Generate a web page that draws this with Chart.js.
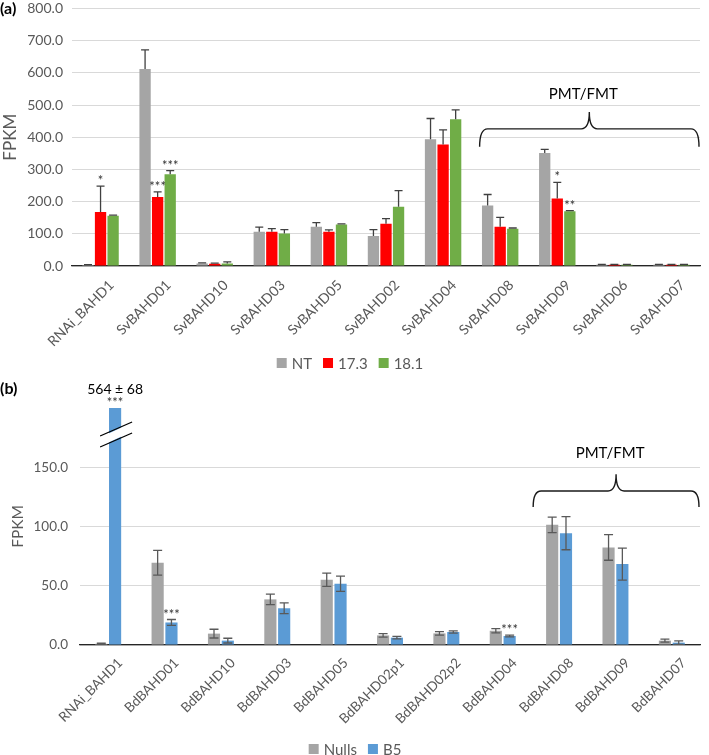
<!DOCTYPE html>
<html>
<head>
<meta charset="utf-8">
<script src="https://cdn.jsdelivr.net/npm/chart.js@4.4.1/dist/chart.umd.min.js"></script>
<style>
body{margin:0;background:#fff;width:709px;height:755px;overflow:hidden;position:relative;font-family:Lato,sans-serif}
canvas{position:absolute;left:0}
#chartA{top:-9px}
#chartB{top:372px}
.tag{position:absolute;left:0;font:bold 16px Lato,sans-serif;color:#000}
</style>
</head>
<body>
<canvas id="chartA" width="709" height="381"></canvas>
<canvas id="chartB" width="709" height="383"></canvas>
<div class="tag" style="top:-2px">(a)</div>
<div class="tag" style="top:378px">(b)</div>
<script>
// panel (a) - Setaria lines
let genesA = ['RNAi_BAHD1', 'SvBAHD01', 'SvBAHD10', 'SvBAHD03', 'SvBAHD05', 'SvBAHD02', 'SvBAHD04', 'SvBAHD08', 'SvBAHD09', 'SvBAHD06', 'SvBAHD07'];
let ntVals = [3, 612, 8, 106, 122, 93, 394, 188, 351, 4, 4];
let ntErr = [1, 59, 2, 15, 13, 20, 64, 34, 11, 1, 1];
let l173Vals = [168, 214, 7, 106, 106, 131, 377, 122, 210, 4, 4];
let l173Err = [80, 16, 2, 10, 6, 16, 46, 29, 50, 1, 1];
let l181Vals = [156, 285, 8, 101, 129, 184, 456, 116, 170, 4, 4];
let l181Err = [2, 11, 5, 12, 2, 50, 29, 2, 2, 1, 1];
let ticksA = [0, 100, 200, 300, 400, 500, 600, 700, 800];
let starsA = [[1, 0, '*'], [1, 1, '***'], [2, 1, '***'], [1, 8, '*'], [2, 8, '**']];

// panel (b) - Brachypodium lines
let genesB = ['RNAi_BAHD1', 'BdBAHD01', 'BdBAHD10', 'BdBAHD03', 'BdBAHD05', 'BdBAHD02p1', 'BdBAHD02p2', 'BdBAHD04', 'BdBAHD08', 'BdBAHD09', 'BdBAHD07'];
let nullVals = [1, 69.4, 9.6, 38.5, 55, 8.1, 9.8, 12, 101.4, 82.3, 3.7];
let nullErr = [0.5, 10.5, 3.7, 4.5, 5.6, 1.5, 1.5, 1.8, 6.5, 10.8, 1.3];
let b5Vals = [564, 19, 3.7, 31, 51.7, 6.2, 11, 7.6, 94.4, 68.3, 2];
let b5Err = [68, 2.5, 2, 4.5, 6.5, 1, 1, 0.7, 14, 13.5, 1.5];
let ticksB = [0, 50, 100, 150];
let starsB = [[1, 0, '***'], [1, 1, '***'], [1, 7, '***']];

const FONT = 'Lato, "Open Sans", sans-serif';
const GREY_TXT = '#595959';

// error bars, stars, braces, axis break and the legend
const extras = {
    id: 'extras',
    afterDatasetsDraw(chart, args, o) {
        const ctx = chart.ctx;
        const y = chart.scales.y;
        const x = chart.scales.x;
        const area = chart.chartArea;
        ctx.save();

        // axis break on bars that run off the scale
        chart.data.datasets.forEach((ds, di) => {
            chart.getDatasetMeta(di).data.forEach((bar, i) => {
                if (ds.data[i] <= y.max) return;
                const cy = area.top + 27;
                const cx = bar.x + 1;
                ctx.fillStyle = '#fff';
                ctx.beginPath();
                ctx.moveTo(cx - 15, cy + 2);
                ctx.lineTo(cx + 15, cy - 12);
                ctx.lineTo(cx + 15, cy - 3);
                ctx.lineTo(cx - 15, cy + 11);
                ctx.closePath();
                ctx.fill();
                ctx.strokeStyle = '#000';
                ctx.lineWidth = 1.3;
                ctx.beginPath();
                ctx.moveTo(cx - 16, cy + 1); ctx.lineTo(cx + 16, cy - 13);
                ctx.moveTo(cx - 16, cy + 12); ctx.lineTo(cx + 16, cy - 2);
                ctx.stroke();
                ctx.fillStyle = '#000';
                ctx.font = '14px ' + FONT;
                ctx.textAlign = 'center';
                ctx.textBaseline = 'middle';
                ctx.fillText(ds.data[i] + ' \u00b1 ' + o.errs[di][i], bar.x, area.top - 19);
            });
        });

        // error bars
        ctx.strokeStyle = o.errColor;
        ctx.lineWidth = 1.3;
        ctx.beginPath();
        o.errs.forEach((errs, di) => {
            const vals = chart.data.datasets[di].data;
            chart.getDatasetMeta(di).data.forEach((bar, i) => {
                if (vals[i] > y.max) return;
                const top = y.getPixelForValue(vals[i] + errs[i]);
                const bot = o.both ? y.getPixelForValue(Math.max(vals[i] - errs[i], 0)) : bar.y;
                ctx.moveTo(bar.x, top); ctx.lineTo(bar.x, bot);
                ctx.moveTo(bar.x - o.cap, top); ctx.lineTo(bar.x + o.cap, top);
                if (o.both) { ctx.moveTo(bar.x - o.cap, bot); ctx.lineTo(bar.x + o.cap, bot); }
            });
        });
        ctx.stroke();

        // significance stars
        ctx.fillStyle = '#333';
        ctx.font = '13px ' + FONT;
        ctx.textAlign = 'center';
        ctx.textBaseline = 'alphabetic';
        o.stars.forEach(([di, i, txt]) => {
            const bar = chart.getDatasetMeta(di).data[i];
            const v = chart.data.datasets[di].data[i] + o.errs[di][i];
            const top = Math.max(y.getPixelForValue(Math.min(v, y.max)), area.top);
            ctx.fillText(txt, bar.x, top - 9 + 8);
        });

        // PMT/FMT brace
        const b = o.brace;
        const catW = x.getPixelForValue(1) - x.getPixelForValue(0);
        const x0 = x.getPixelForValue(b.from) - b.shift * catW;
        const x1 = area.right - 1;
        const xc = (x0 + x1) / 2;
        const yH = y.getPixelForValue(b.level);
        const yE = y.getPixelForValue(b.end);
        const yP = y.getPixelForValue(b.peak);
        const r = 8;
        ctx.strokeStyle = '#1a1a1a';
        ctx.lineWidth = 1.4;
        ctx.beginPath();
        ctx.moveTo(x0, yE);
        ctx.quadraticCurveTo(x0, yH, x0 + r, yH);
        ctx.lineTo(xc - r, yH);
        ctx.quadraticCurveTo(xc, yH, xc, yP);
        ctx.quadraticCurveTo(xc, yH, xc + r, yH);
        ctx.lineTo(x1 - r, yH);
        ctx.quadraticCurveTo(x1, yH, x1, yE);
        ctx.stroke();
        ctx.fillStyle = '#000';
        ctx.font = '15px ' + FONT;
        ctx.textBaseline = 'middle';
        ctx.fillText('PMT/FMT', xc - 6, y.getPixelForValue(b.text));

        // legend
        ctx.font = '15px ' + FONT;
        ctx.textAlign = 'left';
        const items = chart.data.datasets.map(d => ({t: d.label, c: d.backgroundColor, w: ctx.measureText(d.label).width}));
        const total = items.reduce((s, it) => s + 10 + 5 + it.w, 0) + 11 * (items.length - 1);
        let lx = o.legendX - total / 2;
        items.forEach(it => {
            ctx.fillStyle = it.c;
            ctx.fillRect(lx, o.legendY - 5, 10, 10);
            ctx.fillStyle = GREY_TXT;
            ctx.fillText(it.t, lx + 15, o.legendY + 1);
            lx += 15 + it.w + 11;
        });
        ctx.restore();
    }
};

function makeChart(id, labels, sets, yTicks, yMax, opt) {
    return new Chart(id, {
        type: 'bar',
        data: {labels: labels, datasets: sets},
        plugins: [extras],
        options: {
            responsive: false,
            animation: false,
            layout: {padding: {top: opt.padTop, right: 9, left: 0, bottom: 0}},
            datasets: {bar: {barPercentage: opt.barPct, categoryPercentage: opt.catPct, borderWidth: 0}},
            plugins: {
                legend: {display: false},
                tooltip: {enabled: false},
                extras: opt.extras
            },
            scales: {
                x: {
                    grid: {display: false, drawTicks: false},
                    border: {display: true, color: '#262626', width: 1.3},
                    ticks: {color: GREY_TXT, font: {family: FONT, size: opt.xFont}, minRotation: 45, maxRotation: 45, autoSkip: false, padding: opt.xPad, labelOffset: opt.xShift},
                    afterFit: s => { s.height = opt.xHeight; }
                },
                y: {
                    min: 0,
                    max: yMax,
                    grid: {color: '#d9d9d9', lineWidth: 1, drawTicks: false},
                    border: {display: false},
                    afterBuildTicks: s => { s.ticks = yTicks.map(v => ({value: v})); },
                    ticks: {color: GREY_TXT, font: {family: FONT, size: opt.yFont}, padding: opt.yPad, callback: v => v.toFixed(1)},
                    title: {display: true, text: 'FPKM', color: GREY_TXT, font: {family: FONT, size: opt.titleFont}, padding: {top: opt.titlePad, bottom: 0}},
                    afterFit: s => { s.width = opt.yWidth; }
                }
            }
        }
    });
}

makeChart('chartA', genesA, [
    {label: 'NT', data: ntVals, backgroundColor: '#a5a5a5'},
    {label: '17.3', data: l173Vals, backgroundColor: '#ff0000'},
    {label: '18.1', data: l181Vals, backgroundColor: '#70ad47'}
], ticksA, 800, {
    padTop: 0, barPct: 0.9, catPct: 0.66, xFont: 14, xHeight: 106, xPad: 11, xShift: 11, yFont: 14, yPad: 9, titleFont: 17, titlePad: 0, yWidth: 72,
    extras: {errs: [ntErr, l173Err, l181Err], both: false, cap: 4, errColor: '#404040', stars: starsA,
        brace: {from: 7, shift: 0.36, level: 426, end: 370, peak: 478, text: 534}, legendX: 350, legendY: 372}
});

makeChart('chartB', genesB, [
    {label: 'Nulls', data: nullVals, backgroundColor: '#a5a5a5'},
    {label: 'B5', data: b5Vals, backgroundColor: '#5b9bd5'}
], ticksB, 200, {
    padTop: 36, barPct: 0.88, catPct: 0.49, xFont: 13.5, xHeight: 110, xPad: 10, xShift: 12, yFont: 13.5, yPad: 12, titleFont: 15.5, titlePad: 9, yWidth: 80,
    extras: {errs: [nullErr, b5Err], both: true, cap: 4.5, errColor: '#595959', stars: starsB,
        brace: {from: 8, shift: 0.46, level: 130, end: 116.5, peak: 144, text: 162}, legendX: 355, legendY: 377}
});
</script>
</body>
</html>
